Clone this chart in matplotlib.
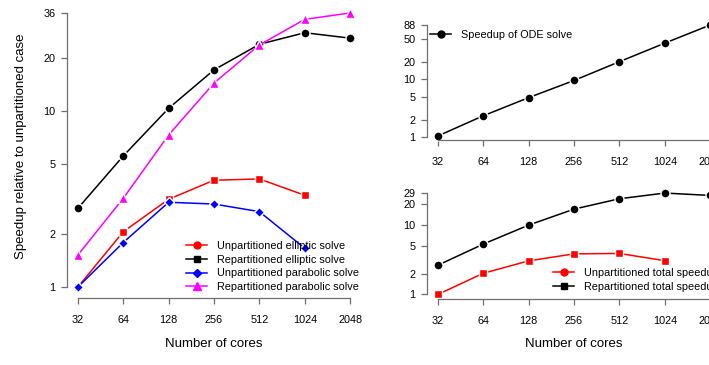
import matplotlib
matplotlib.use("Agg")
import matplotlib.pyplot as plt
from matplotlib.lines import Line2D

plt.rcParams['font.family'] = ['Liberation Sans', 'DejaVu Sans']

# ---- data ----
cores = [32, 64, 128, 256, 512, 1024, 2048]
cores_short = [32, 64, 128, 256, 512, 1024]

unpart_elliptic = [1.0, 2.06, 3.15, 4.04, 4.11, 3.32]
repart_elliptic = [2.8, 5.55, 10.35, 17.1, 23.9, 27.8, 25.9]
unpart_parabolic = [1.0, 1.79, 3.03, 2.96, 2.68, 1.66]
repart_parabolic = [1.52, 3.19, 7.3, 14.4, 23.7, 33.1, 36.0]

ode_speedup = [1.04, 2.33, 4.82, 9.57, 20.3, 42.6, 88.0]

unpart_total = [1.0, 2.02, 3.05, 3.85, 3.9, 3.07]
repart_total = [2.64, 5.32, 10.0, 17.0, 24.0, 29.0, 26.8]

left_yticks = [1, 2, 5, 10, 20, 36]
ode_yticks = [1, 2, 5, 10, 20, 50, 88]
total_yticks = [1, 2, 5, 10, 20, 29]

W, H = 709, 365
fig = plt.figure(figsize=(W / 100, H / 100), dpi=100)
GRAY = '#6f6f6f'
TFS = 7.8


def px_axes(l, t, r, b):
    return fig.add_axes([l / W, 1 - b / H, (r - l) / W, (b - t) / H])


def r_style(ax, yticks, ydata):
    # R-like log axes with 4% padding and detached spines
    ax.set_xscale('log', base=2)
    ax.set_yscale('log')
    x0, x1 = cores[0], cores[-1]
    fx = (x1 / x0) ** 0.04
    ax.set_xlim(x0 / fx, x1 * fx)
    y0, y1 = min(ydata), max(ydata)
    fy = (y1 / y0) ** 0.04
    ax.set_ylim(y0 / fy, y1 * fy)
    for s in ('top', 'right'):
        ax.spines[s].set_visible(False)
    for s in ('left', 'bottom'):
        ax.spines[s].set_color(GRAY)
        ax.spines[s].set_linewidth(0.9)
    ax.spines['left'].set_bounds(yticks[0], yticks[-1])
    ax.spines['bottom'].set_bounds(x0, x1)
    ax.set_xticks(cores)
    ax.set_xticklabels([str(c) for c in cores])
    ax.set_yticks(yticks)
    ax.set_yticklabels([str(t) for t in yticks])
    ax.minorticks_off()
    ax.tick_params(axis='both', direction='out', length=4.3, width=0.9,
                   color=GRAY, labelsize=TFS)
    ax.tick_params(axis='x', pad=8)
    ax.tick_params(axis='y', pad=4)
    ax.patch.set_alpha(0)


def series(ax, x, y, color, marker, ms):
    ax.plot(x, y, color=color, lw=1.1, marker=marker, markersize=ms,
            markerfacecolor=color, markeredgecolor='white',
            markeredgewidth=1.0, clip_on=False)


def handle(color, marker, ms):
    return Line2D([0], [0], color=color, lw=1.1, marker=marker, markersize=ms,
                  markerfacecolor=color, markeredgecolor=color)


legend_kw = dict(bbox_transform=fig.transFigure, frameon=False, fontsize=TFS,
                 borderpad=0, borderaxespad=0, handlelength=1.95,
                 handletextpad=0.9, labelspacing=0.34, loc='upper left')

# ---- left panel ----
ax1 = px_axes(67, 2, 361, 298)
series(ax1, cores, repart_elliptic, 'black', 'o', 6.5)
series(ax1, cores, repart_parabolic, '#ff00ff', '^', 7.5)
series(ax1, cores_short, unpart_elliptic, '#ff0000', 's', 6)
series(ax1, cores_short, unpart_parabolic, '#0000ff', 'D', 5.5)
r_style(ax1, left_yticks, repart_parabolic + unpart_elliptic)
h1 = [handle('#ff0000', 'o', 5), handle('black', 's', 4.5),
      handle('#0000ff', 'D', 4.5), handle('#ff00ff', '^', 5.5)]
ax1.legend(h1, ['Unpartitioned elliptic solve', 'Repartitioned elliptic solve',
                'Unpartitioned parabolic solve', 'Repartitioned parabolic solve'],
           bbox_to_anchor=(186 / W, 1 - 241 / H), **legend_kw)
fig.text(214 / W, 1 - 344 / H, 'Number of cores', ha='center', va='center',
         fontsize=9.5)
fig.text(21 / W, 1 - 146 / H, 'Speedup relative to unpartitioned case',
         ha='center', va='center', rotation=90, fontsize=9.5)

# ---- top right panel ----
ax2 = px_axes(427, 20.6, 721, 140.4)
series(ax2, cores, ode_speedup, 'black', 'o', 6.5)
r_style(ax2, ode_yticks, ode_speedup)
ax2.legend([handle('black', 'o', 5)], ['Speedup of ODE solve'],
           bbox_to_anchor=(430 / W, 1 - 30 / H), **legend_kw)

# ---- bottom right panel ----
ax3 = px_axes(427, 189, 721, 298.5)
series(ax3, cores, repart_total, 'black', 'o', 6.5)
series(ax3, cores_short, unpart_total, '#ff0000', 's', 6)
r_style(ax3, total_yticks, repart_total + unpart_total)
ax3.legend([handle('#ff0000', 'o', 5), handle('black', 's', 4.5)],
           ['Unpartitioned total speedup', 'Repartitioned total speedup'],
           bbox_to_anchor=(553 / W, 1 - 268 / H), **legend_kw)
fig.text(574 / W, 1 - 344 / H, 'Number of cores', ha='center', va='center',
         fontsize=9.5)

fig.savefig('out.png', dpi=100, facecolor='white')
